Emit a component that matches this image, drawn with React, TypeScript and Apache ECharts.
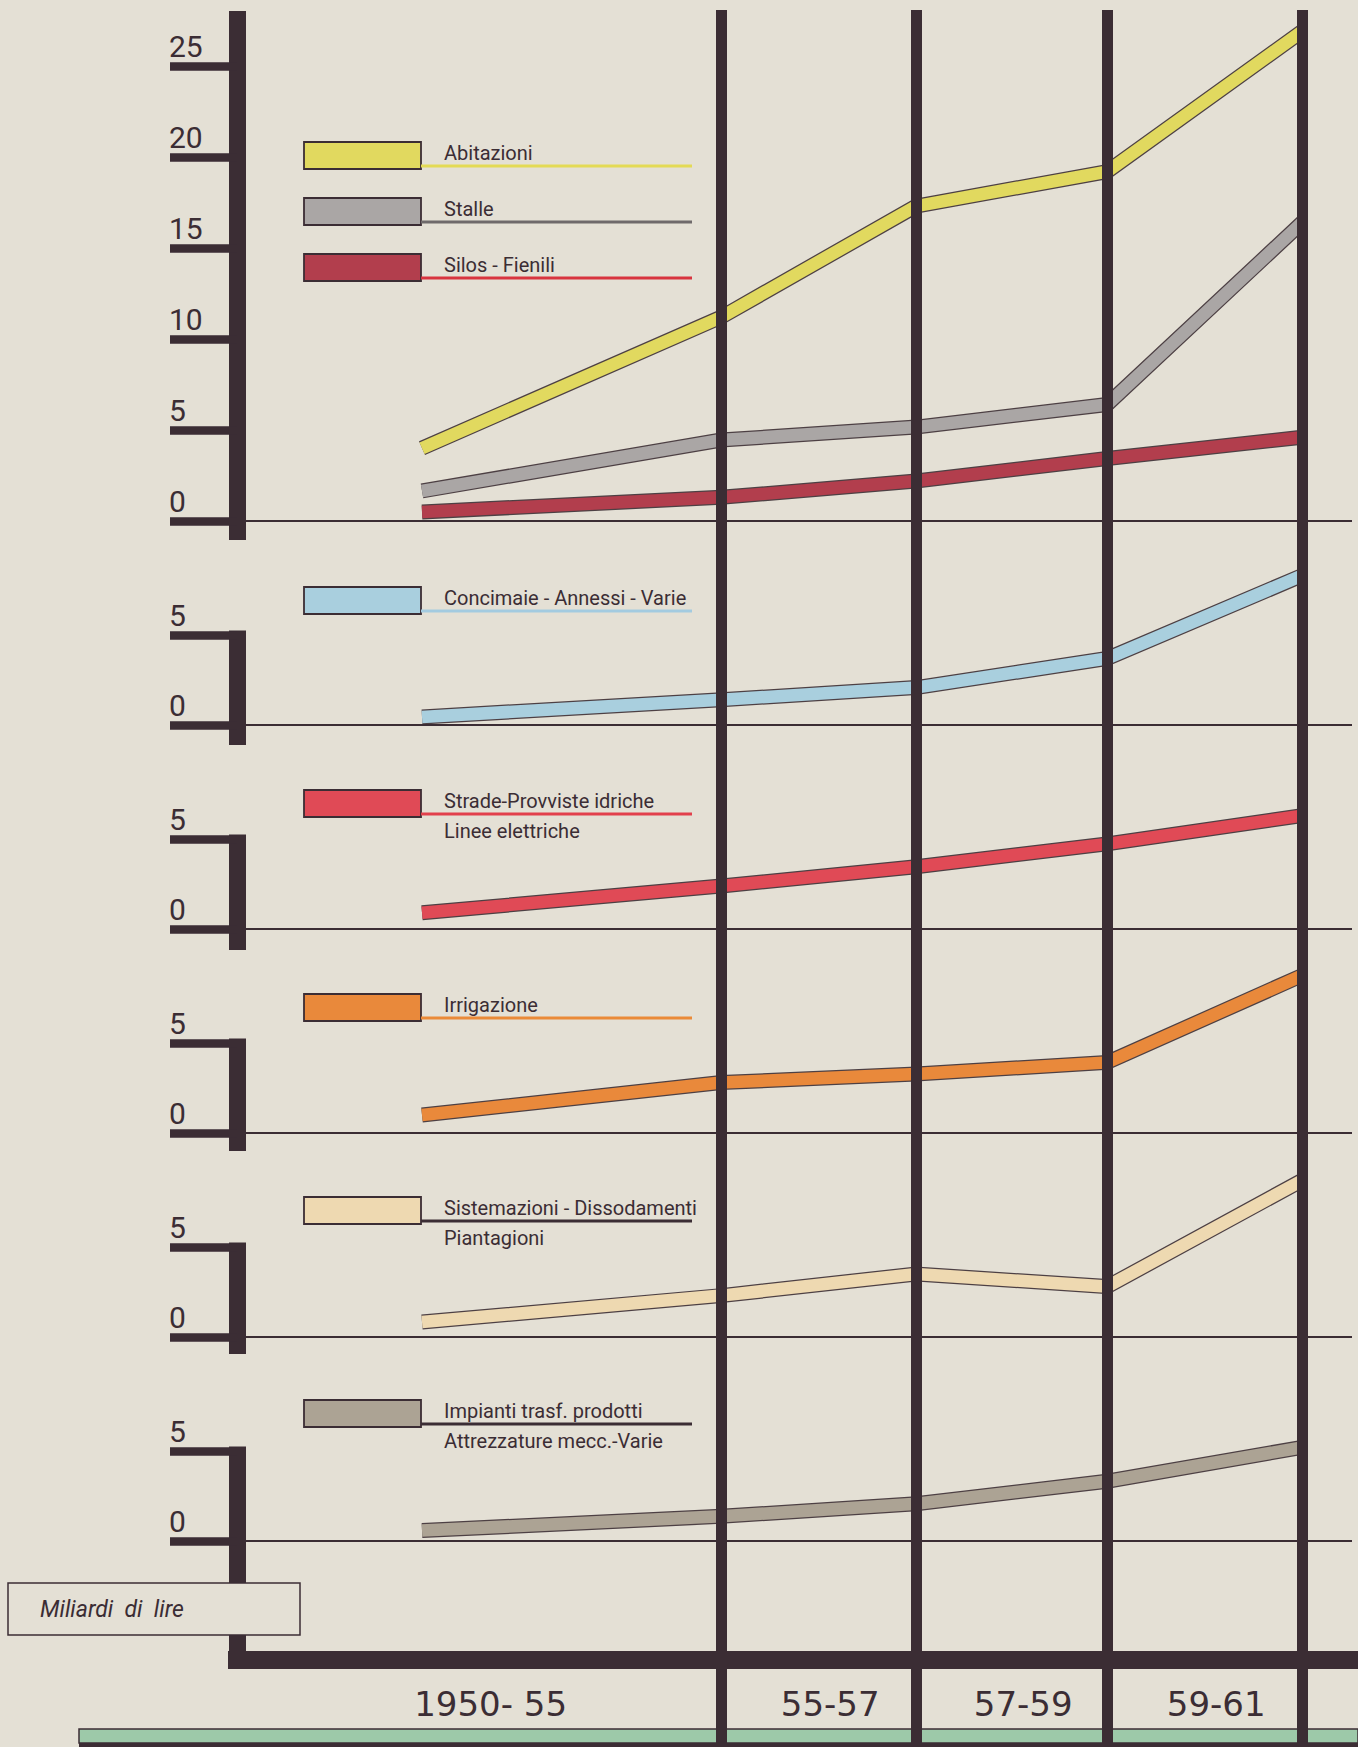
import React, { useEffect, useRef } from "react";
import * as echarts from "echarts";

// ---- data ----
const pointLabels = ["1950", "1955", "1957", "1959", "1961"];
const periodLabels = ["1950- 55", "55-57", "57-59", "59-61"];
const abitazioni = [4.0, 11.2, 17.3, 19.2, 26.9];
const stalle = [1.65, 4.45, 5.16, 6.4, 16.4];
const silosFienili = [0.5, 1.3, 2.2, 3.43, 4.6];
const concimaie = [0.45, 1.4, 2.08, 3.7, 8.3];
const strade = [0.9, 2.39, 3.46, 4.73, 6.3];
const irrigazione = [1.0, 2.8, 3.28, 3.92, 8.75];
const sistemazioni = [0.83, 2.3, 3.5, 2.8, 8.7];
const impianti = [0.58, 1.37, 2.07, 3.32, 5.2];
const topTicks = [0, 5, 10, 15, 20, 25];
const smallTicks = [0, 5];

// ---- layout / style ----
const W = 1358;
const H = 1747;
const AXIS_X = 237;
const RIGHT_X = 1352;
const X0 = 422; // pixel of scale position 0
const XU = 193; // pixels per scale unit
const periodPos = [0, 1.55, 2.56, 3.55, 4.56]; // scale positions of the five dates
const XMIN = (AXIS_X - X0) / XU;
const XMAX = (RIGHT_X - X0) / XU;
const LABEL_SHIFT = 0.06;

const DARK = "#3b2d34";
const BG = "#e4e0d5";
const OUTLINE = "#4d4044";
const FONT = "Roboto, 'DejaVu Sans', sans-serif";
const WIDE_FONT = "'DejaVu Sans', Roboto, sans-serif";

const panels = [
  { zero: 521, k: 18.2, top: 11, bottom: 540, ticks: topTicks },
  { zero: 725, k: 18, top: 630.5, bottom: 745, ticks: smallTicks },
  { zero: 929, k: 18, top: 834.5, bottom: 950, ticks: smallTicks },
  { zero: 1133, k: 18, top: 1038.5, bottom: 1151, ticks: smallTicks },
  { zero: 1337, k: 18, top: 1242.5, bottom: 1354, ticks: smallTicks },
  { zero: 1541, k: 18, top: 1446.5, bottom: 1660, ticks: smallTicks },
];

const items = [
  { data: abitazioni, color: "#e1d95f", ul: "#e3da55", panel: 0, boxTop: 142, lines: ["Abitazioni"] },
  { data: stalle, color: "#aaa6a5", ul: "#6f6a6b", panel: 0, boxTop: 198, lines: ["Stalle"] },
  { data: silosFienili, color: "#b23e4d", ul: "#d8343f", panel: 0, boxTop: 254, lines: ["Silos - Fienili"] },
  { data: concimaie, color: "#a9cfde", ul: "#a3cbe0", panel: 1, boxTop: 587, lines: ["Concimaie - Annessi - Varie"] },
  { data: strade, color: "#e04a56", ul: "#e2404c", panel: 2, boxTop: 790, lines: ["Strade-Provviste idriche", "Linee elettriche"] },
  { data: irrigazione, color: "#e9893b", ul: "#ea8a38", panel: 3, boxTop: 994, lines: ["Irrigazione"] },
  { data: sistemazioni, color: "#eed9b1", ul: DARK, panel: 4, boxTop: 1197, lines: ["Sistemazioni - Dissodamenti", "Piantagioni"] },
  { data: impianti, color: "#aca394", ul: DARK, panel: 5, boxTop: 1400, lines: ["Impianti trasf. prodotti", "Attrezzature mecc.-Varie"] },
];

const BOX_X = 304;
const BOX_W = 117;
const BOX_H = 27;
const TEXT_X = 444;
const UL_END = 692;

function buildOption() {
  const grids: any[] = [];
  const xAxes: any[] = [];
  const yAxes: any[] = [];
  const series: any[] = [];

  const bounds = [XMIN, ...periodPos.slice(1)];
  const labelPos = periodLabels.map((_, i) => (bounds[i] + bounds[i + 1]) / 2 + LABEL_SHIFT);

  panels.forEach((p, i) => {
    grids.push({ left: AXIS_X, top: p.top, width: RIGHT_X - AXIS_X, height: p.bottom - p.top });
    const isLast = i === panels.length - 1;
    xAxes.push({
      type: "value",
      gridIndex: i,
      min: XMIN,
      max: XMAX,
      show: isLast,
      position: "bottom",
      axisLine: { show: isLast, onZero: false, lineStyle: { color: DARK, width: 18, cap: "square" } },
      axisTick: { show: false },
      splitLine: { show: false },
      axisLabel: {
        show: isLast,
        customValues: labelPos,
        formatter: (v: number) => {
          const idx = labelPos.findIndex((q) => Math.abs(q - v) < 1e-6);
          return idx >= 0 ? periodLabels[idx] : "";
        },
        margin: 44,
        verticalAlign: "middle",
        fontSize: 34,
        fontFamily: WIDE_FONT,
        color: DARK,
      },
    });
    yAxes.push({
      type: "value",
      gridIndex: i,
      min: (p.zero - p.bottom) / p.k,
      max: (p.zero - p.top) / p.k,
      axisLine: { show: true, onZero: false, lineStyle: { color: DARK, width: 17, cap: "butt" } },
      axisTick: { show: true, inside: false, length: 67, customValues: p.ticks, lineStyle: { color: DARK, width: 8.5, cap: "butt" } },
      axisLabel: {
        show: true,
        customValues: p.ticks,
        align: "left",
        margin: 68,
        verticalAlign: "bottom",
        lineHeight: 30,
        padding: [0, 0, 5, 0],
        fontSize: 30,
        fontFamily: FONT,
        color: DARK,
      },
      splitLine: { show: false },
    });
    // zero baseline
    series.push({
      type: "line",
      name: "baseline" + i,
      xAxisIndex: i,
      yAxisIndex: i,
      data: [],
      silent: true,
      z: 2,
      markLine: {
        silent: true,
        symbol: ["none", "none"],
        label: { show: false },
        lineStyle: { color: DARK, width: 1.8, type: "solid" },
        data: [{ yAxis: 0 }],
      },
    });
  });

  items.forEach((it) => {
    const pts = periodPos.map((x, j) => [x, it.data[j]]);
    series.push({
      type: "line",
      name: it.lines.join(" ") + " (bordo)",
      xAxisIndex: it.panel,
      yAxisIndex: it.panel,
      data: pts,
      symbol: "none",
      clip: false,
      silent: true,
      z: 3,
      lineStyle: { color: OUTLINE, width: 15, join: "miter", cap: "butt" },
    });
    series.push({
      type: "line",
      name: it.lines.join(" "),
      xAxisIndex: it.panel,
      yAxisIndex: it.panel,
      data: pts,
      symbol: "none",
      clip: false,
      silent: true,
      z: 4,
      lineStyle: { color: it.color, width: 12.5, join: "miter", cap: "butt" },
    });
  });

  // overlay grid for the vertical period bars
  const ov = panels.length;
  grids.push({ left: AXIS_X, top: 10, width: RIGHT_X - AXIS_X, height: H - 10 });
  xAxes.push({ type: "value", gridIndex: ov, min: XMIN, max: XMAX, show: false });
  yAxes.push({ type: "value", gridIndex: ov, min: 0, max: 1, show: false });
  series.push({
    type: "line",
    name: "periodi",
    xAxisIndex: ov,
    yAxisIndex: ov,
    data: [],
    silent: true,
    z: 10,
    markLine: {
      silent: true,
      symbol: ["none", "none"],
      label: { show: false },
      lineStyle: { color: DARK, width: 11, type: "solid", cap: "butt" },
      data: periodPos.slice(1).map((x) => ({ xAxis: x })),
    },
  });

  const graphics: any[] = [];
  items.forEach((it) => {
    const uy = it.boxTop + 24;
    graphics.push({
      type: "rect",
      z: 5,
      shape: { x: BOX_X, y: it.boxTop, width: BOX_W, height: BOX_H },
      style: { fill: it.color, stroke: DARK, lineWidth: 1.8 },
    });
    graphics.push({
      type: "line",
      z: 5,
      shape: { x1: BOX_X + BOX_W, y1: uy, x2: UL_END, y2: uy },
      style: { stroke: it.ul, lineWidth: 3 },
    });
    graphics.push({
      type: "text",
      z: 5,
      x: TEXT_X,
      y: uy - 3,
      style: { text: it.lines[0], fill: DARK, font: `20px ${FONT}`, verticalAlign: "bottom", align: "left" },
    });
    if (it.lines[1]) {
      graphics.push({
        type: "text",
        z: 5,
        x: TEXT_X,
        y: uy + 7,
        style: { text: it.lines[1], fill: DARK, font: `20px ${FONT}`, verticalAlign: "top", align: "left" },
      });
    }
  });
  // unit box
  graphics.push({
    type: "rect",
    z: 50,
    shape: { x: 8, y: 1583, width: 292, height: 52 },
    style: { fill: BG, stroke: DARK, lineWidth: 1.5 },
  });
  graphics.push({
    type: "text",
    z: 51,
    x: 40,
    y: 1609,
    style: { text: "Miliardi  di  lire", fill: DARK, font: `italic 23px ${FONT}`, verticalAlign: "middle", align: "left" },
  });
  // green band at the bottom
  graphics.push({
    type: "rect",
    z: 1,
    shape: { x: 79, y: 1729, width: W - 79, height: 14 },
    style: { fill: "#9dc9a9", stroke: DARK, lineWidth: 1.5 },
  });
  graphics.push({
    type: "rect",
    z: 1,
    shape: { x: 79, y: 1743, width: W - 79, height: 4 },
    style: { fill: DARK },
  });

  return {
    animation: false,
    backgroundColor: BG,
    grid: grids,
    xAxis: xAxes,
    yAxis: yAxes,
    series,
    graphic: graphics,
  };
}

export default function App() {
  const ref = useRef<HTMLDivElement>(null);
  useEffect(() => {
    if (!ref.current) return;
    const chart = echarts.init(ref.current, undefined, { renderer: "svg", width: W, height: H });
    chart.setOption(buildOption() as any);
    return () => chart.dispose();
  }, []);
  return (
    <div
      ref={ref}
      data-points={pointLabels.join(",")}
      style={{ position: "absolute", left: 0, top: 0, width: W, height: H, background: BG }}
    />
  );
}
